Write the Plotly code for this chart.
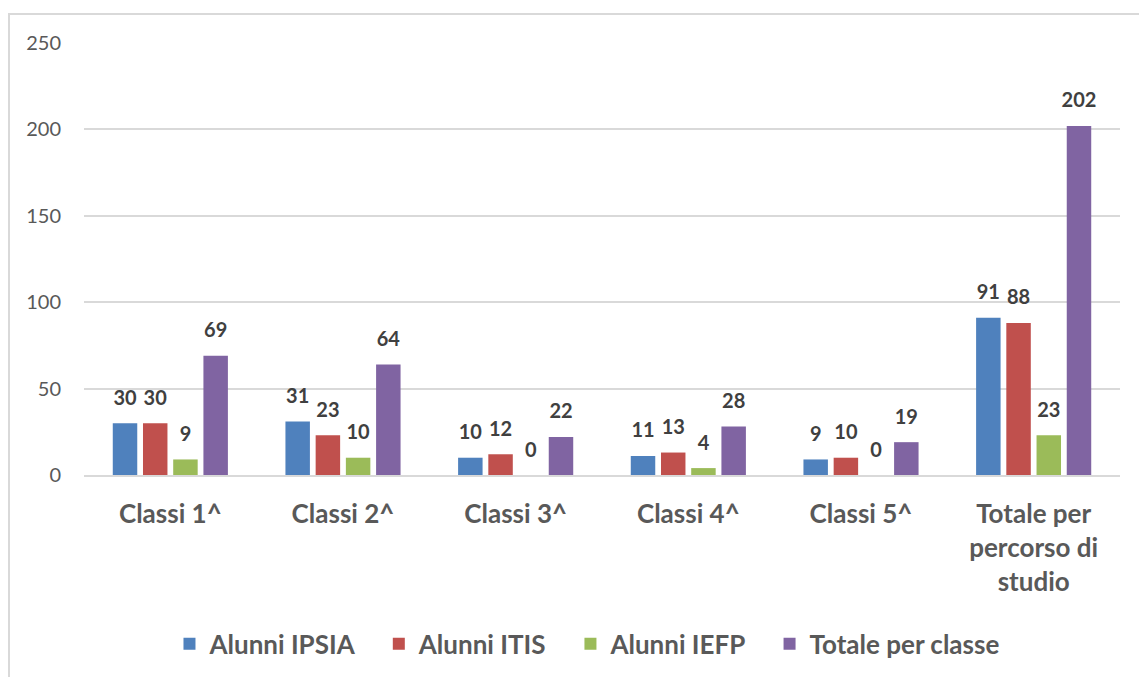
import plotly.graph_objects as go

categories = ["Classi 1^", "Classi 2^", "Classi 3^", "Classi 4^", "Classi 5^", "Totale per<br>percorso di<br>studio"]
series_names = ["Alunni IPSIA", "Alunni ITIS", "Alunni IEFP", "Totale per classe"]
ipsia = [30, 31, 10, 11, 9, 91]
itis = [30, 23, 12, 13, 10, 88]
iefp = [9, 10, 0, 4, 0, 23]
totale = [69, 64, 22, 28, 19, 202]
colors = ["#4F81BD", "#C0504D", "#9BBB59", "#8064A2"]
y_ticks = [0, 50, 100, 150, 200, 250]

FONT = "Lato"
NB = "\u00a0" * 3
fig = go.Figure()
all_series = [ipsia, itis, iefp, totale]
for k, (name, vals, col) in enumerate(zip(series_names, all_series, colors)):
    fig.add_trace(go.Bar(
        x=categories, y=vals, name=name + (NB if k < 3 else ""), marker_color=col,
        marker_line_width=0, offsetgroup=str(k),
    ))
for k, (name, vals) in enumerate(zip(series_names, all_series)):
    fig.add_trace(go.Scatter(
        x=categories, y=vals, mode="markers+text", text=[str(v) for v in vals],
        textposition="top center", offsetgroup=str(k), showlegend=False, hoverinfo="skip",
        marker=dict(size=20, opacity=0), cliponaxis=False,
        textfont=dict(family=FONT, size=20, color="#404040", weight="bold"),
    ))

fig.update_layout(
    width=1139, height=669,
    paper_bgcolor="white", plot_bgcolor="white",
    barmode="group", bargap=0.30, bargroupgap=0.19,
    scattermode="group", scattergap=0.30,
    margin=dict(l=76, r=27, t=35, b=202, autoexpand=False),
    font=dict(family=FONT, color="#595959"),
    showlegend=True,
    legend=dict(orientation="h", x=0.4855, xanchor="center", y=-0.391, yanchor="middle",
                font=dict(family=FONT, size=26, color="#595959", weight="bold"),
                traceorder="normal"),
    shapes=[dict(type="rect", xref="paper", yref="paper", x0=-0.0724, x1=1.05, y0=-0.5, y1=1.067,
                 line=dict(color="#D9D9D9", width=2), fillcolor="rgba(0,0,0,0)", layer="below")],
)
fig.update_yaxes(range=[0, 250], tickvals=y_ticks, showgrid=True, gridcolor="#D9D9D9", gridwidth=1.5,
                 zeroline=False, showline=False, ticks="", ticklabelstandoff=22,
                 tickfont=dict(family=FONT, size=20, color="#595959"))
fig.update_xaxes(showgrid=False, showline=True, linecolor="#D9D9D9", linewidth=1.5, ticks="",
                 ticklabelstandoff=15,
                 tickfont=dict(family=FONT, size=26, color="#595959", weight="bold"))

fig.write_html("out.html")
